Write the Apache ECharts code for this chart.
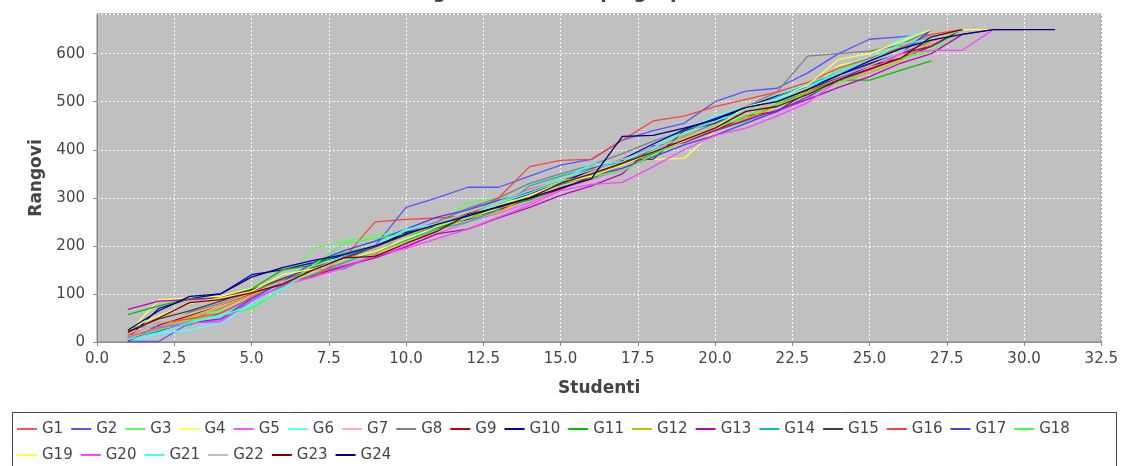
<!DOCTYPE html>
<html>
<head>
<meta charset="utf-8">
<script src="https://cdn.jsdelivr.net/npm/echarts@6/dist/echarts.min.js"></script>
<style>
  html, body { margin: 0; padding: 0; background: #ffffff; }
  #chart { width: 1121px; height: 466px; }
</style>
</head>
<body>
<div id="chart"></div>
<script>
// Sorted ranks of the students in each group (x = student number, 1-based)
const G1  = [3, 28, 45, 70, 98, 120, 138, 165, 190, 222, 245, 262, 290, 318, 335, 356, 380, 405, 428, 455, 476, 500, 522, 548, 570, 598, 625, 650];
const G2  = [1, 1, 40, 45, 85, 118, 150, 178, 200, 280, 300, 322, 322, 345, 368, 380, 420, 440, 455, 500, 522, 528, 560, 600, 630, 635, 640, 650];
const G3  = [10, 22, 55, 65, 72, 110, 195, 210, 222, 230, 240, 290, 300, 305, 345, 360, 380, 400, 440, 470, 490, 500, 530, 565, 590, 615, 650];
const G4  = [18, 88, 92, 95, 112, 130, 155, 175, 190, 210, 232, 255, 280, 300, 322, 345, 370, 380, 382, 440, 480, 505, 520, 575, 590, 610, 640, 650, 650];
const G5  = [5, 30, 42, 45, 95, 118, 140, 160, 178, 200, 225, 250, 268, 290, 318, 338, 360, 392, 430, 440, 460, 478, 505, 560, 575, 590, 620, 650];
const G6  = [2, 18, 25, 38, 80, 125, 150, 170, 195, 215, 240, 262, 290, 315, 330, 350, 378, 412, 440, 470, 490, 510, 540, 570, 595, 630, 650];
const G7  = [25, 35, 55, 75, 100, 122, 145, 168, 190, 218, 240, 262, 280, 300, 320, 342, 365, 395, 422, 450, 475, 498, 525, 548, 572, 598, 622, 650];
const G8  = [8, 20, 62, 80, 105, 130, 150, 152, 182, 228, 250, 278, 300, 330, 350, 368, 392, 418, 438, 462, 490, 520, 595, 600, 605, 618, 650];
const G9  = [1, 35, 55, 78, 100, 125, 150, 172, 195, 225, 238, 255, 275, 298, 318, 345, 370, 392, 418, 440, 470, 480, 520, 545, 575, 590, 615, 650];
const G10 = [8, 70, 90, 100, 140, 150, 165, 180, 198, 228, 240, 262, 285, 308, 330, 358, 380, 412, 442, 465, 488, 512, 530, 555, 580, 600, 628, 650];
const G11 = [57, 75, 90, 92, 110, 150, 160, 185, 200, 220, 238, 258, 282, 295, 322, 340, 368, 392, 418, 440, 460, 495, 520, 545, 545, 565, 585];
const G12 = [12, 30, 50, 72, 98, 120, 142, 168, 185, 210, 232, 258, 270, 305, 328, 350, 372, 400, 430, 450, 465, 490, 520, 540, 560, 585, 625, 650];
const G13 = [68, 85, 88, 92, 108, 118, 138, 158, 175, 198, 225, 235, 258, 280, 305, 325, 350, 408, 415, 440, 462, 482, 505, 530, 552, 580, 600, 640, 650, 650];
const G14 = [30, 32, 35, 60, 90, 115, 140, 165, 188, 212, 235, 250, 275, 325, 345, 362, 375, 400, 425, 455, 480, 510, 535, 560, 585, 610, 635, 650];
const G15 = [22, 48, 65, 85, 108, 132, 155, 175, 198, 222, 245, 268, 292, 312, 335, 360, 378, 380, 440, 455, 490, 500, 525, 550, 578, 600, 615, 650];
const G16 = [15, 40, 48, 60, 92, 125, 135, 175, 250, 255, 258, 262, 300, 365, 378, 380, 420, 460, 470, 490, 505, 520, 540, 570, 590, 612, 640, 650];
const G17 = [4, 22, 40, 48, 90, 125, 165, 190, 210, 235, 260, 275, 295, 310, 328, 345, 362, 385, 410, 430, 455, 480, 510, 545, 575, 600, 650];
const G18 = [8, 25, 45, 55, 70, 110, 160, 205, 215, 225, 245, 270, 290, 300, 335, 345, 355, 390, 420, 445, 470, 495, 515, 540, 565, 590, 605, 650];
const G19 = [28, 55, 80, 92, 105, 140, 152, 172, 188, 215, 240, 262, 285, 305, 330, 345, 368, 395, 418, 445, 490, 505, 535, 588, 600, 625, 650];
const G20 = [10, 30, 40, 42, 85, 118, 135, 155, 180, 195, 215, 235, 260, 285, 315, 328, 332, 365, 400, 430, 445, 470, 498, 545, 565, 600, 607, 607, 650];
const G21 = [5, 20, 40, 55, 75, 110, 150, 180, 200, 235, 245, 258, 290, 310, 335, 370, 375, 405, 435, 460, 480, 505, 530, 560, 585, 620, 630, 650];
const G22 = [18, 38, 58, 78, 102, 125, 148, 170, 195, 220, 245, 270, 292, 315, 338, 358, 380, 402, 425, 452, 478, 502, 528, 552, 575, 602, 628, 650];
const G23 = [20, 50, 82, 88, 102, 120, 150, 175, 178, 205, 230, 265, 280, 300, 330, 350, 372, 395, 420, 445, 480, 490, 515, 545, 568, 590, 635, 650];
const G24 = [25, 65, 95, 100, 135, 155, 170, 182, 200, 225, 245, 262, 282, 300, 320, 340, 428, 430, 445, 462, 488, 500, 525, 555, 585, 610, 628, 640, 650, 650, 650];

const groupNames = ['G1','G2','G3','G4','G5','G6','G7','G8','G9','G10','G11','G12',
                    'G13','G14','G15','G16','G17','G18','G19','G20','G21','G22','G23','G24'];
const groupValues = [G1,G2,G3,G4,G5,G6,G7,G8,G9,G10,G11,G12,G13,G14,G15,G16,G17,G18,G19,G20,G21,G22,G23,G24];

// Default series paint sequence
const palette = ['#ff5555','#5555ff','#55ff55','#ffff55','#ff55ff','#55ffff','#ffafaf','#808080',
                 '#c00000','#0000c0','#00c000','#c0c000','#c000c0','#00c0c0','#404040','#ff4040',
                 '#4040ff','#40ff40','#ffff40','#ff40ff','#40ffff','#c0c0c0','#800000','#000080'];

const xTicks = { min: 0, max: 32.5, step: 2.5 };
const yTicks = { min: 0, max: 682.5, step: 100 };

const tickFont = { fontFamily: 'DejaVu Sans', fontSize: 15, color: '#444444' };
const nameFont = { fontFamily: 'DejaVu Sans', fontSize: 17, fontWeight: 'bold', color: '#444444' };

const series = groupNames.map((name, i) => ({
  name: name,
  type: 'line',
  symbol: 'none',
  data: groupValues[i].map((v, k) => [k + 1, v]),
  lineStyle: { width: 1.3, color: palette[i] },
  itemStyle: { color: palette[i] },
  emphasis: { disabled: true }
}));

// Plain line swatch for the legend entries
const lineIcon = 'path://M0,0 M0,8 L20,8 L20,10 L0,10 Z M20,18';

const chart = echarts.init(document.getElementById('chart'), null, { renderer: 'canvas' });
chart.setOption({
  animation: false,
  backgroundColor: '#ffffff',
  title: {
    text: 'Rangovi studenata po grupama',
    left: 'center',
    top: -21.5,
    textStyle: { fontFamily: 'DejaVu Sans', fontSize: 19, fontWeight: 'bold', color: '#444444' }
  },
  grid: {
    left: 97, right: 17, top: 14, bottom: 124,
    show: true, backgroundColor: '#c0c0c0', borderColor: '#8a8a8a', borderWidth: 1
  },
  xAxis: {
    type: 'value',
    min: xTicks.min, max: xTicks.max, interval: xTicks.step,
    offset: 5,
    name: 'Studenti', nameLocation: 'middle', nameGap: 33, nameTextStyle: nameFont,
    axisLine: { show: true, lineStyle: { color: '#8a8a8a', width: 1 } },
    axisTick: { show: true, length: 4, lineStyle: { color: '#8a8a8a' } },
    axisLabel: Object.assign({ margin: 5, formatter: v => v.toFixed(1) }, tickFont),
    splitLine: { show: true, lineStyle: { color: '#ffffff', type: [2, 2], width: 1 } }
  },
  yAxis: {
    type: 'value',
    min: yTicks.min, max: yTicks.max, interval: yTicks.step,
    offset: 4,
    name: 'Rangovi', nameLocation: 'middle', nameGap: 41, nameRotate: 90, nameTextStyle: nameFont,
    axisLine: { show: true, lineStyle: { color: '#8a8a8a', width: 1 } },
    axisTick: { show: true, length: 4, lineStyle: { color: '#8a8a8a' } },
    axisLabel: Object.assign({ margin: 8, showMaxLabel: false, formatter: v => String(Math.round(v)) }, tickFont),
    splitLine: { show: true, lineStyle: { color: '#ffffff', type: [2, 2], width: 1 } }
  },
  legend: {
    left: 17, top: 420, width: 1094,
    itemWidth: 20, itemHeight: 18, itemGap: 8,
    padding: 0,
    icon: lineIcon,
    textStyle: { fontFamily: 'DejaVu Sans', fontSize: 15, color: '#444444' },
    data: groupNames
  },
  graphic: [{
    type: 'rect',
    silent: true,
    shape: { x: 12.5, y: 412.5, width: 1104, height: 70 },
    style: { fill: 'none', stroke: '#444444', lineWidth: 1 }
  }],
  series: series
});
</script>
</body>
</html>
